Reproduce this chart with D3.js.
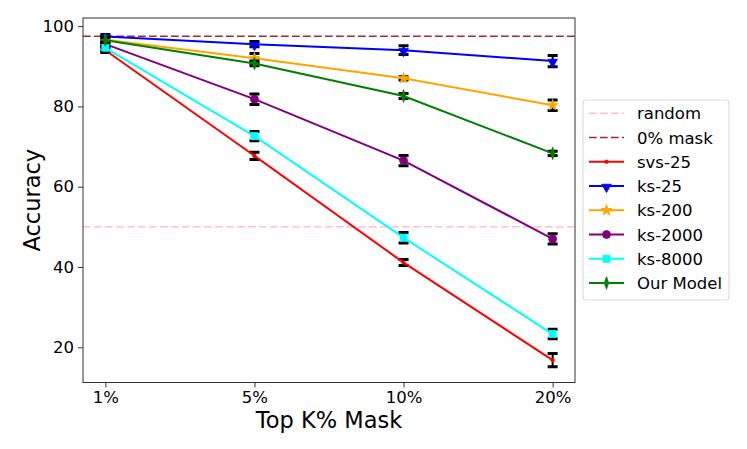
<!DOCTYPE html>
<html><head><meta charset="utf-8">
<script src="https://cdn.jsdelivr.net/npm/d3@7"></script>
<style>
html,body{margin:0;padding:0;background:#fff;}
text{font-family:"DejaVu Sans",sans-serif;}
</style></head>
<body>
<svg id="c" width="747" height="449"></svg>
<script>
const categories = ["1%", "5%", "10%", "20%"];
const yTicks = [20, 40, 60, 80, 100];
const randomLevel = 50;
const zeroMaskLevel = 97.5;

const seriesNames = ["svs-25", "ks-25", "ks-200", "ks-2000", "ks-8000", "Our Model"];
const svs25 = [94.0, 67.7, 41.1, 16.8];
const svs25Err = [0.6, 0.9, 0.75, 1.65];
const ks25 = [97.4, 95.5, 94.0, 91.3];
const ks25Err = [0.5, 0.65, 1.1, 1.4];
const ks200 = [96.6, 92.0, 87.0, 80.3];
const ks200Err = [0.6, 1.2, 0.4, 1.3];
const ks2000 = [95.5, 81.8, 66.5, 47.0];
const ks2000Err = [0.6, 1.3, 1.3, 1.25];
const ks8000 = [94.6, 72.6, 47.3, 23.3];
const ks8000Err = [0.8, 1.15, 1.3, 1.2];
const ourModel = [96.5, 90.7, 82.6, 68.3];
const ourModelErr = [0.6, 0.6, 0.6, 0.5];

const series = [
  {name: seriesNames[0], values: svs25, err: svs25Err, color: "#ff0000", marker: "point"},
  {name: seriesNames[1], values: ks25, err: ks25Err, color: "#0000ff", marker: "tridown"},
  {name: seriesNames[2], values: ks200, err: ks200Err, color: "#ffa500", marker: "star"},
  {name: seriesNames[3], values: ks2000, err: ks2000Err, color: "#800080", marker: "circle"},
  {name: seriesNames[4], values: ks8000, err: ks8000Err, color: "#00ffff", marker: "square"},
  {name: seriesNames[5], values: ourModel, err: ourModelErr, color: "#008000", marker: "thindiamond"}
];

const svg = d3.select("#c");
const L = 83, R = 575, T = 18, B = 382.5;
const tickFont = 16.5, labelFont = 22.5;

const x = d3.scaleLinear().domain([-0.15, 3.15]).range([L, R]);
const y = d3.scaleLinear().domain([11.23, 102.02]).range([B, T]);

svg.append("clipPath").attr("id", "clip").append("rect")
  .attr("x", L).attr("y", T).attr("width", R - L).attr("height", B - T);
const plot = svg.append("g").attr("clip-path", "url(#clip)");

// reference lines
plot.append("line").attr("x1", L).attr("x2", R)
  .attr("y1", y(randomLevel)).attr("y2", y(randomLevel))
  .attr("stroke", "#ffc0cb").attr("stroke-width", 1.5).attr("stroke-dasharray", "7.7,3.3");
plot.append("line").attr("x1", L).attr("x2", R)
  .attr("y1", y(zeroMaskLevel)).attr("y2", y(zeroMaskLevel))
  .attr("stroke", "#a52a2a").attr("stroke-width", 1.5).attr("stroke-dasharray", "7.7,3.3");

function markerPath(type) {
  switch (type) {
    case "point": return d3.symbol(d3.symbolCircle, 10)();
    case "tridown": return d3.symbol(d3.symbolTriangle, 40)();
    case "star": return d3.symbol(d3.symbolStar, 38)();
    case "circle": return d3.symbol(d3.symbolCircle, 50)();
    case "square": return d3.symbol(d3.symbolSquare, 50)();
    case "thindiamond": return d3.symbol(d3.symbolDiamond, 48)();
  }
}
function markerTransform(type, px, py) {
  if (type === "tridown") return `translate(${px},${py + 1}) rotate(180)`;
  if (type === "thindiamond") return `translate(${px},${py}) scale(0.62,1)`;
  return `translate(${px},${py})`;
}

const line = d3.line().x((d, i) => x(i)).y(d => y(d));

series.forEach(s => {
  const g = plot.append("g");
  s.values.forEach((v, i) => {
    const px = x(i), lo = y(v - s.err[i]), hi = y(v + s.err[i]);
    g.append("line").attr("x1", px).attr("x2", px).attr("y1", lo).attr("y2", hi)
      .attr("stroke", "#000").attr("stroke-width", 2);
    [lo, hi].forEach(yy => g.append("line").attr("x1", px - 5).attr("x2", px + 5)
      .attr("y1", yy).attr("y2", yy).attr("stroke", "#000").attr("stroke-width", 3));
  });
  g.append("path").datum(s.values).attr("d", line)
    .attr("fill", "none").attr("stroke", s.color).attr("stroke-width", 2);
  s.values.forEach((v, i) => {
    g.append("path").attr("d", markerPath(s.marker))
      .attr("transform", markerTransform(s.marker, x(i), y(v)))
      .attr("fill", s.color).attr("stroke", s.color).attr("stroke-width", 0.8);
  });
});

// axes
const xAxis = d3.axisBottom(x).tickValues(d3.range(categories.length))
  .tickFormat(i => categories[i]).tickSize(5).tickPadding(4);
const yAxis = d3.axisLeft(y).tickValues(yTicks).tickSize(5).tickPadding(4);

const gx = svg.append("g").attr("transform", `translate(0,${B})`).call(xAxis);
const gy = svg.append("g").attr("transform", `translate(${L},0)`).call(yAxis);
[gx, gy].forEach(g => {
  g.select(".domain").remove();
  g.selectAll(".tick line").attr("stroke", "#333").attr("stroke-width", 1);
  g.selectAll(".tick text").attr("font-size", tickFont).attr("fill", "#000")
    .attr("font-family", "DejaVu Sans, sans-serif");
});
gx.selectAll(".tick text").attr("dy", "0.71em");

svg.append("rect").attr("x", L).attr("y", T).attr("width", R - L).attr("height", B - T)
  .attr("fill", "none").attr("stroke", "#333").attr("stroke-width", 1);

// axis labels
svg.append("text").attr("x", (L + R) / 2).attr("y", 428).attr("text-anchor", "middle")
  .attr("font-size", labelFont).text("Top K% Mask");
svg.append("text").attr("transform", `translate(40,${(T + B) / 2}) rotate(-90)`)
  .attr("text-anchor", "middle").attr("font-size", labelFont).text("Accuracy");

// legend
const lg = svg.append("g");
lg.append("rect").attr("x", 583).attr("y", 100).attr("width", 146).attr("height", 200)
  .attr("rx", 3).attr("fill", "#fff").attr("fill-opacity", 0.8)
  .attr("stroke", "#d9d9d9").attr("stroke-width", 1);
const legendItems = [
  {name: "random", color: "#ffc0cb", dash: true},
  {name: "0% mask", color: "#a52a2a", dash: true}
].concat(series.map(s => ({name: s.name, color: s.color, marker: s.marker})));
legendItems.forEach((it, k) => {
  const cy = 113.3 + k * 24.25;
  lg.append("line").attr("x1", 589).attr("x2", 624).attr("y1", cy).attr("y2", cy)
    .attr("stroke", it.color).attr("stroke-width", it.dash ? 1.5 : 2)
    .attr("stroke-dasharray", it.dash ? "7.7,3.3" : null);
  if (it.marker) {
    lg.append("path").attr("d", markerPath(it.marker))
      .attr("transform", markerTransform(it.marker, 606.5, cy))
      .attr("fill", it.color).attr("stroke", it.color).attr("stroke-width", 0.8);
  }
  lg.append("text").attr("x", 637).attr("y", cy + 6).attr("font-size", tickFont).text(it.name);
});
</script>
</body></html>
